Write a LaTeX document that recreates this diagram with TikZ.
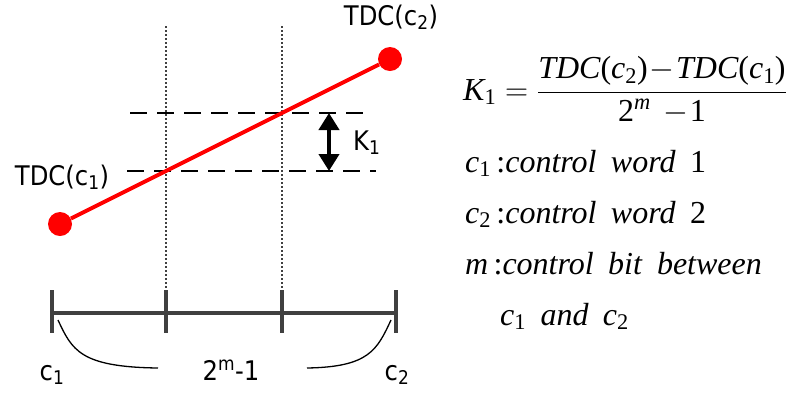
\RequirePackage{fix-cm}
\documentclass[tikz,border=0pt]{standalone}
\usepackage{amsmath}
\usepackage{fontspec}
\setmainfont{Liberation Serif}
\newfontfamily\labelfont{DejaVu Sans Condensed}
\usepackage{tikz}
\usetikzlibrary{arrows.meta,positioning,calc}
\definecolor{cTdc}{HTML}{FF0000}
\definecolor{cRuler}{HTML}{404040}
\newcommand{\wgap}{\hspace{0.45em}}
\tikzset{
  lbl/.style={font=\labelfont\fontsize{27}{30}\selectfont, inner sep=0pt},
  eqn/.style={font=\fontsize{32}{36}\selectfont, inner sep=0pt, anchor=base west},
  tdcdot/.style={circle, fill=cTdc, minimum size=24pt, inner sep=0pt},
  tdcline/.style={line width=4pt, draw=cTdc},
  guide/.style={line width=1.6pt, draw=black!75, dash pattern=on 2pt off 2pt},
  lvl/.style={line width=1.8pt, dash pattern=on 17pt off 10pt},
  ruler/.style={line width=4pt, draw=cRuler},
  brace/.style={line width=1.3pt},
  kspan/.style={{Triangle[length=17pt,width=20pt]}-{Triangle[length=17pt,width=20pt]}, line width=4pt},
}

\begin{document}
\begin{tikzpicture}[x=1pt, y=-1pt]
  \useasboundingbox (0,0) rectangle (803,392);
  % guides from the ruler up
  \foreach \x/\n in {166/a, 282/b} {
    \coordinate (g\n top) at (\x,26);
    \coordinate (g\n bot) at (\x,290);
    \draw[guide] (g\n top) -- (g\n bot);
  }
  % code levels
  \coordinate (hi west) at (130,113); \coordinate (hi east) at (372,113);
  \coordinate (lo west) at (127,171); \coordinate (lo east) at (376,171);
  \draw[lvl] (hi west) -- (hi east);
  \draw[lvl] (lo west) -- (lo east);
  \coordinate (k top) at (329,113); \coordinate (k bot) at (329,171);
  \draw[kspan] (k top) -- (k bot);
  \node[lbl, anchor=base west] (k) at (353,150) {K\textsubscript{1}};
  % transfer line
  \node[tdcdot] (tdc1) at (60,224) {};
  \node[tdcdot] (tdc2) at (390,59) {};
  \draw[tdcline] (tdc1) -- (tdc2);
  \node[lbl, anchor=base] (tdc1 lbl) at (62,185) {TDC(c\textsubscript{1})};
  \node[lbl, anchor=base] (tdc2 lbl) at (391,25) {TDC(c\textsubscript{2})};
  % ruler
  \coordinate (r0) at (52,313); \coordinate (r3) at (396,313);
  \draw[ruler] (r0) -- (r3);
  \foreach \x in {52,166,282,396}
    \draw[ruler] (\x,290) -- (\x,333);
  \draw[brace] (58,320) .. controls (72,350) and (80,367) .. (158,368);
  \draw[brace] (391,320) .. controls (377,350) and (369,367) .. (307,368);
  \node[lbl, anchor=base] (c1) at (52,380) {c\textsubscript{1}};
  \node[lbl, anchor=base] (steps) at (231,380) {2\textsuperscript{m}-1};
  \node[lbl, anchor=base] (c2) at (397,380) {c\textsubscript{2}};
  % formula and legend
  \node[eqn] (eq) at (463,100) {$\textit{K}_{\text{1}}=\dfrac{\textit{TDC}\text{(}\textit{c}_{\text{2}}\text{)}\!-\!\textit{TDC}\text{(}\textit{c}_{\text{1}}\text{)}}{\text{2}^{\textit{m}}\,-\!\text{1}}$};
  \node[eqn] (l1) at (465,172) {\textit{c}\textsubscript{1}\,:\textit{control}\wgap\textit{word}\wgap 1};
  \node[eqn] (l2) at (465,223) {\textit{c}\textsubscript{2}\,:\textit{control}\wgap\textit{word}\wgap 2};
  \node[eqn] (l3) at (465,274) {\textit{m}\,:\textit{control}\wgap\textit{bit}\wgap\textit{between}};
  \node[eqn] (l4) at (500,325) {\textit{c}\textsubscript{1}\wgap\textit{and}\wgap\textit{c}\textsubscript{2}};
\end{tikzpicture}
\end{document}
